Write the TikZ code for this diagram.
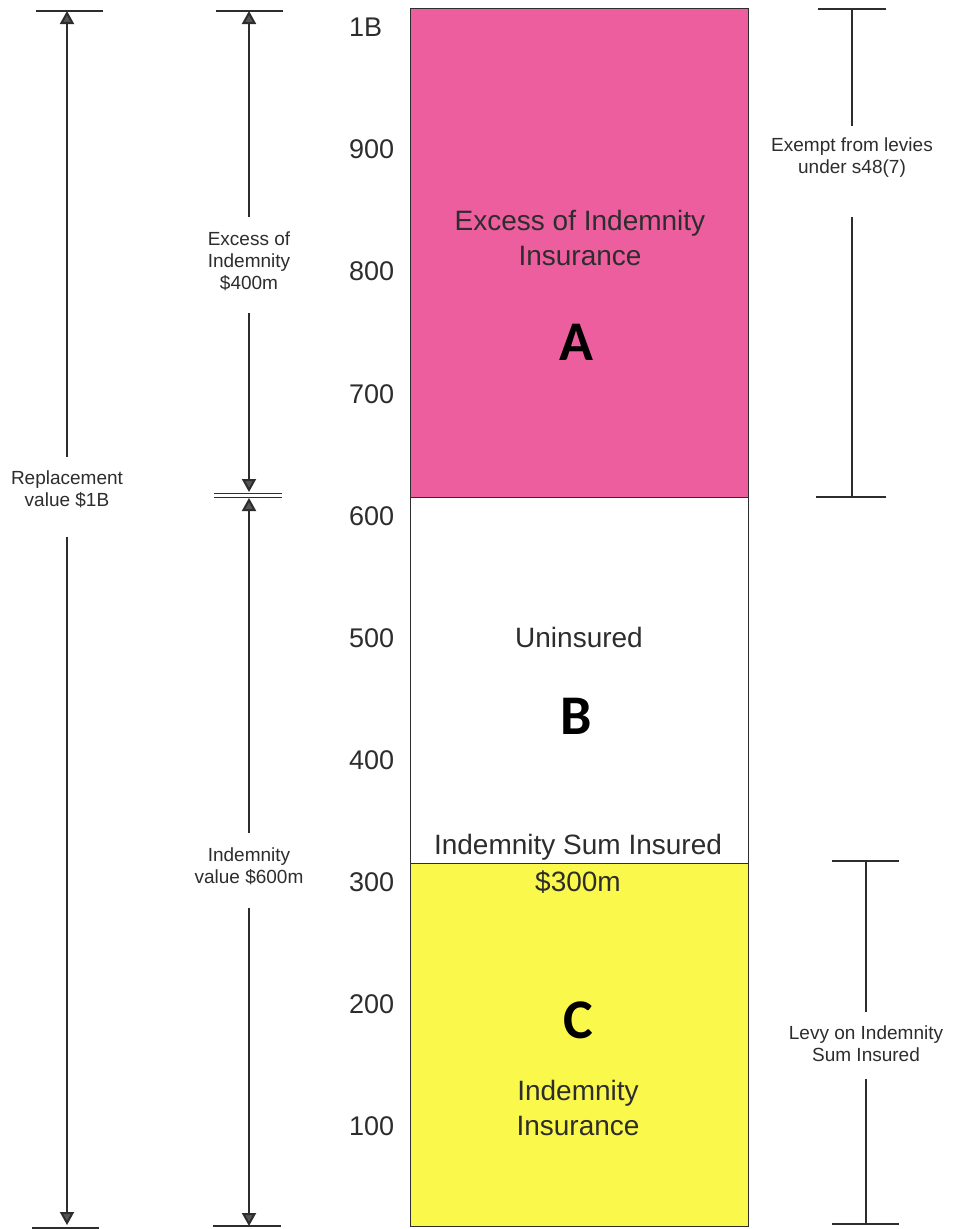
\documentclass[tikz,border=0pt]{standalone}
\usepackage{fontspec}
\setmainfont{Liberation Sans}
\newfontfamily\letterfont{Carlito}
\usetikzlibrary{arrows.meta}
\definecolor{pinkA}{RGB}{237,94,158}
\definecolor{yellowC}{RGB}{250,248,75}
\definecolor{ink}{RGB}{45,45,45}
\definecolor{tipgray}{RGB}{85,85,85}
\begin{document}
\begin{tikzpicture}[x=1pt,y=-1pt,
  side/.style={font=\fontsize{19}{22}\selectfont, text=ink, align=center, inner sep=0pt},
  axislbl/.style={font=\fontsize{27}{30}\selectfont, text=ink, anchor=west, inner sep=0pt},
  inlbl/.style={font=\fontsize{28}{35}\selectfont, text=ink, align=center, inner sep=0pt},
  letter/.style={font=\letterfont\bfseries\fontsize{56}{56}\selectfont, text=black, inner sep=0pt},
  band/.style={draw=ink, line width=0.8pt, anchor=north west, inner sep=0pt, minimum width=338pt},
  dimline/.style={draw=ink, line width=2pt},
  tipped/.style={dimline, -{Triangle[width=14pt,length=13pt,fill=tipgray]}},
  bar/.style={draw=ink, line width=1.4pt},
]
\useasboundingbox (0,0) rectangle (957,1229);
\fill[white] (0,0) rectangle (957,1229);

% bands
\node[band, fill=pinkA, minimum height=489pt] (bandA) at (410,8) {};
\node[band, fill=white, minimum height=366pt] (bandB) at (410,497) {};
\node[band, fill=yellowC, minimum height=363pt] (bandC) at (410,863) {};

% axis labels
\node[axislbl] (l1B) at (349,27.5) {1B};
\node[axislbl] (l900) at (349,149.6) {900};
\node[axislbl] (l800) at (349,271.7) {800};
\node[axislbl] (l700) at (349,393.8) {700};
\node[axislbl] (l600) at (349,515.9) {600};
\node[axislbl] (l500) at (349,638) {500};
\node[axislbl] (l400) at (349,760) {400};
\node[axislbl] (l300) at (349,882) {300};
\node[axislbl] (l200) at (349,1004) {200};
\node[axislbl] (l100) at (349,1126) {100};

% band texts
\node[inlbl] (tA) at (580,238) {Excess of Indemnity\\Insurance};
\node[letter] (A) at (576,342) {A};
\node[inlbl] (tB) at (579,637) {Uninsured};
\node[letter] (B) at (576,716) {B};
\node[inlbl] (tsum) at (578,847) {Indemnity Sum Insured};
\node[inlbl] (t300) at (578,882) {\$300m};
\node[letter] (C) at (578,1020) {C};
\node[inlbl] (tC) at (578,1108) {Indemnity\\Insurance};

% arrow 1: replacement value
\node[side] (rep) at (67,489) {Replacement\\value \$1B};
\coordinate (r1top) at (67,11);
\coordinate (r1a) at (67,457);
\coordinate (r1b) at (67,537);
\coordinate (r1bot) at (67,1225);
\coordinate (b1l) at (36,11); \coordinate (b1r) at (103,11);
\coordinate (b2l) at (32,1228); \coordinate (b2r) at (99,1228);
\draw[bar] (b1l) -- (b1r);
\draw[bar] (b2l) -- (b2r);
\draw[tipped] (r1a) -- (r1top);
\draw[tipped] (r1b) -- (r1bot);

% arrow 2: excess / indemnity value
\node[side] (exc) at (249,261) {Excess of\\Indemnity\\\$400m};
\node[side] (ind) at (249,866) {Indemnity\\value \$600m};
\coordinate (e1top) at (249,11);
\coordinate (e1a) at (249,217);
\coordinate (e1b) at (249,313);
\coordinate (e1bot) at (249,492);
\coordinate (i1top) at (249,498);
\coordinate (i1a) at (249,833);
\coordinate (i1b) at (249,908);
\coordinate (i1bot) at (249,1226);
\coordinate (c1l) at (216,11); \coordinate (c1r) at (283,11);
\coordinate (d1l) at (214,493); \coordinate (d1r) at (282,493);
\coordinate (d2l) at (214,497); \coordinate (d2r) at (282,497);
\coordinate (c2l) at (213,1226); \coordinate (c2r) at (281,1226);
\draw[bar] (c1l) -- (c1r);
\draw[draw=ink, line width=1pt] (d1l) -- (d1r);
\draw[draw=ink, line width=1pt] (d2l) -- (d2r);
\draw[bar] (c2l) -- (c2r);
\draw[tipped] (e1a) -- (e1top);
\draw[tipped] (e1b) -- (e1bot);
\draw[tipped] (i1a) -- (i1top);
\draw[tipped] (i1b) -- (i1bot);

% right I-bar 1
\node[side] (exm) at (852,158) {Exempt from levies\\under s48(7)};
\coordinate (x1top) at (852,9);
\coordinate (x1a) at (852,126);
\coordinate (x1b) at (852,217);
\coordinate (x1bot) at (852,497);
\coordinate (xt1) at (818,9); \coordinate (xt2) at (886,9);
\coordinate (xb1) at (816,497); \coordinate (xb2) at (886,497);
\draw[bar] (xt1) -- (xt2);
\draw[bar] (xb1) -- (xb2);
\draw[dimline] (x1top) -- (x1a);
\draw[dimline] (x1b) -- (x1bot);

% right I-bar 2
\node[side] (levy) at (866,1044) {Levy on Indemnity\\Sum Insured};
\coordinate (y1top) at (866,861);
\coordinate (y1a) at (866,1012);
\coordinate (y1b) at (866,1079);
\coordinate (y1bot) at (866,1224);
\coordinate (yt1) at (832,861); \coordinate (yt2) at (899,861);
\coordinate (yb1) at (832,1224); \coordinate (yb2) at (899,1224);
\draw[bar] (yt1) -- (yt2);
\draw[bar] (yb1) -- (yb2);
\draw[dimline] (y1top) -- (y1a);
\draw[dimline] (y1b) -- (y1bot);
\end{tikzpicture}
\end{document}
